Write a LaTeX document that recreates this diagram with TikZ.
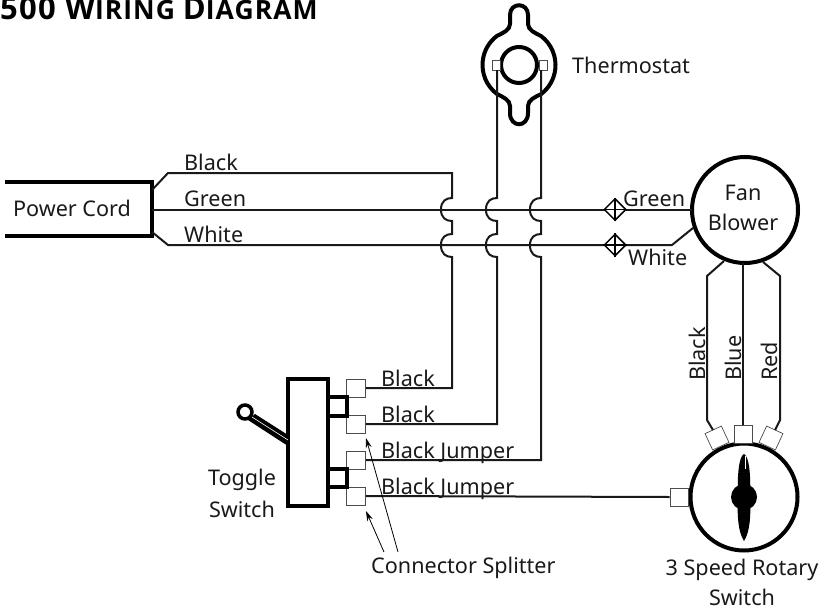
\documentclass[tikz,border=0pt]{standalone}
\usepackage{fontspec}
\setmainfont{Noto Sans}
\newfontfamily\titlefont[LetterSpace=4]{Open Sans}
\usetikzlibrary{arrows.meta,shapes.geometric}
\tikzset{
  wire/.style={draw=black!90,line width=2pt,line join=miter},
  thickline/.style={draw=black,line width=4pt},
  lbl/.style={font=\fontsize{21.6}{25}\selectfont,inner sep=0pt,text=black!90},
  term/.style={draw=black!70,line width=0.7pt,fill=white,minimum width=19pt,minimum height=18pt,inner sep=0pt},
  ptr/.style={draw=black,line width=0.8pt,-{Stealth[length=10pt,width=6pt]}},
}
\begin{document}
\begin{tikzpicture}[x=1pt,y=-1pt]
\useasboundingbox (0,0) rectangle (826,610);
% title
\node[anchor=base west,inner sep=0pt,font=\titlefont\bfseries] (title) at (0,20) {\fontsize{31}{30}\selectfont 500 W\fontsize{26.5}{30}\selectfont IRING \fontsize{31}{30}\selectfont D\fontsize{26.5}{30}\selectfont IAGRAM};
% power cord
\coordinate (pcTop) at (152,182);
\coordinate (pcBot) at (152,236);
\draw[thickline] (5,182) -- (pcTop) -- (pcBot) -- (5,236);
\node[lbl,anchor=center] (pc) at (72,208) {Power Cord};
% thermostat
\draw[line width=4pt,fill=white] (510,24) -- (510,15) .. controls (510,2) and (528,2) .. (528,15) -- (528,24) .. controls (528,30) and (535,33) .. (541,36)
  arc[start angle=-53,end angle=53,radius=36.4]
  .. controls (535,97) and (528,100) .. (528,106) -- (528,113) .. controls (528,128) and (510,128) .. (510,113) -- (510,106) .. controls (510,100) and (503,97) .. (497,94)
  arc[start angle=127,end angle=233,radius=36.4]
  .. controls (503,33) and (510,30) .. (510,24) -- cycle;
\node[draw=black,line width=4pt,circle,minimum size=36pt,inner sep=0pt,fill=white] (tcore) at (519,65) {};
\node[draw=black!70,line width=0.8pt,fill=white,minimum width=8pt,minimum height=10pt,inner sep=0pt] (tl) at (496,65) {};
\node[draw=black!70,line width=0.8pt,fill=white,minimum width=8pt,minimum height=10pt,inner sep=0pt] (tr) at (543,65) {};
\node[lbl,anchor=base west] (tlabel) at (572,73) {Thermostat};
% fan
\node[draw=black,line width=4pt,circle,minimum size=106pt,inner sep=0pt] (fan) at (745,210) {};
\node[lbl,anchor=center] (fan1) at (743,193) {Fan};
\node[lbl,anchor=center] (fan2) at (743,222) {Blower};
% toggle
\node[draw=black,line width=4pt,minimum width=40pt,minimum height=127pt,inner sep=0pt,fill=white] (tog) at (308,442.5) {};
\node[term] (s1) at (356,388) {};
\node[term] (s2) at (356,424) {};
\node[term] (s3) at (356,460) {};
\node[term] (s4) at (356,496) {};
\draw[line width=3.5pt] (328,397) -- (347,397) -- (347,416) -- (328,416);
\draw[line width=3.5pt] (328,469) -- (347,469) -- (347,487) -- (328,487);
\node[draw=black,line width=3.5pt,circle,minimum size=14pt,inner sep=0pt] (knob) at (245,412) {};
\fill[black] (255,414) -- (288,435) -- (288,446) -- (248,420) -- cycle;
\draw[white,line width=0.6pt] (252,417) -- (288,440);
% rotary
\node[draw=black,line width=4pt,circle,minimum size=107pt,inner sep=0pt,fill=white] (rot) at (744,497) {};
\node[term,minimum size=18pt] (ra) at (743,434) {};
\node[term,minimum size=18pt,rotate=25] (rb) at (717,438) {};
\node[term,minimum size=18pt,rotate=-25] (rc) at (771,438) {};
\node[term,minimum size=18pt] (rd) at (679,497) {};
\node[fill=black,circle,minimum size=26pt,inner sep=0pt] (rk) at (744,497) {};
\fill[black] (744,454) .. controls (749,456) and (751,475) .. (750,497) .. controls (751,515) and (750,532) .. (744,541) .. controls (738,532) and (737,515) .. (738,497) .. controls (737,475) and (739,456) .. (744,454) -- cycle;
\draw[white,line width=0.7pt] (745,456) -- (745,469);
% wires
\draw[wire] (pcTop) ++(0,8) -- (168,173) -- (452,173) -- (452,198) .. controls (446,198) and (441,201) .. (441,209.5) .. controls (441,218) and (446,221) .. (452,221) -- (452,234) .. controls (446,234) and (441,237) .. (441,245) .. controls (441,254) and (446,257) .. (452,257) |- (s1.east);
\draw[wire] (497,70) -- (497,198) .. controls (491,198) and (486,201) .. (486,209.5) .. controls (486,218) and (491,221) .. (497,221) -- (497,234) .. controls (491,234) and (486,237) .. (486,245) .. controls (486,254) and (491,257) .. (497,257) |- (s2.east);
\draw[wire] (541,70) -- (541,198) .. controls (535,198) and (530,201) .. (530,209.5) .. controls (530,218) and (535,221) .. (541,221) -- (541,234) .. controls (535,234) and (530,237) .. (530,245) .. controls (530,254) and (535,257) .. (541,257) |- (s3.east);
\draw[wire] (s4.east) -- (rd.west);
\draw[wire] (152,209.5) -- (692,209.5);
\draw[wire] (pcBot) ++(0,-4) -- (168,245) -- (672,245) -- (693,228);
\draw[wire] (724,261) -- (707,276) -- (707,420) -- (713,430);
\draw[wire] (743,263) -- (ra.north);
\draw[wire] (763,262) -- (780,276) -- (780,420) -- (775,430);
% diamonds
\node[draw=black,line width=1.5pt,diamond,aspect=1,minimum size=22pt,inner sep=0pt,fill=white] (d1) at (615,209.5) {};
\node[draw=black,line width=1.5pt,diamond,aspect=1,minimum size=22pt,inner sep=0pt,fill=white] (d2) at (615,245) {};
\draw[line width=1.2pt] (d1.north) -- (d1.south) (d1.west) -- (d1.east);
\draw[line width=1.2pt] (d2.north) -- (d2.south) (d2.west) -- (d2.east);
% labels
\node[lbl,anchor=base west] (l1) at (184,170) {Black};
\node[lbl,anchor=base west] (l2) at (184,206) {Green};
\node[lbl,anchor=base west] (l3) at (184,242) {White};
\node[lbl,anchor=base west] (l4) at (623,206) {Green};
\node[lbl,anchor=base west] (l5) at (628,265) {White};
\node[lbl,anchor=base west] (l6) at (381,386) {Black};
\node[lbl,anchor=base west] (l7) at (381,422) {Black};
\node[lbl,anchor=base west] (l8) at (381,458) {Black Jumper};
\node[lbl,anchor=base west] (l9) at (381,494) {Black Jumper};
\node[lbl,anchor=center] (tg1) at (242,480) {Toggle};
\node[lbl,anchor=center] (tg2) at (242,509) {Switch};
\node[lbl,anchor=base west] (cs) at (371,573) {Connector Splitter};
\node[lbl,anchor=base] (r1) at (742,575) {3 Speed Rotary};
\node[lbl,anchor=base] (r2) at (742,605) {Switch};
\node[lbl,anchor=base west,rotate=90] (v1) at (705,381) {Black};
\node[lbl,anchor=base west,rotate=90] (v2) at (741,381) {Blue};
\node[lbl,anchor=base west,rotate=90] (v3) at (777,381) {Red};
% pointers
\coordinate (p1) at (398,552);
\coordinate (p2) at (384,552);
\draw[ptr] (p1) -- (366,438);
\draw[ptr] (p2) -- (366,511);
\end{tikzpicture}
\end{document}
